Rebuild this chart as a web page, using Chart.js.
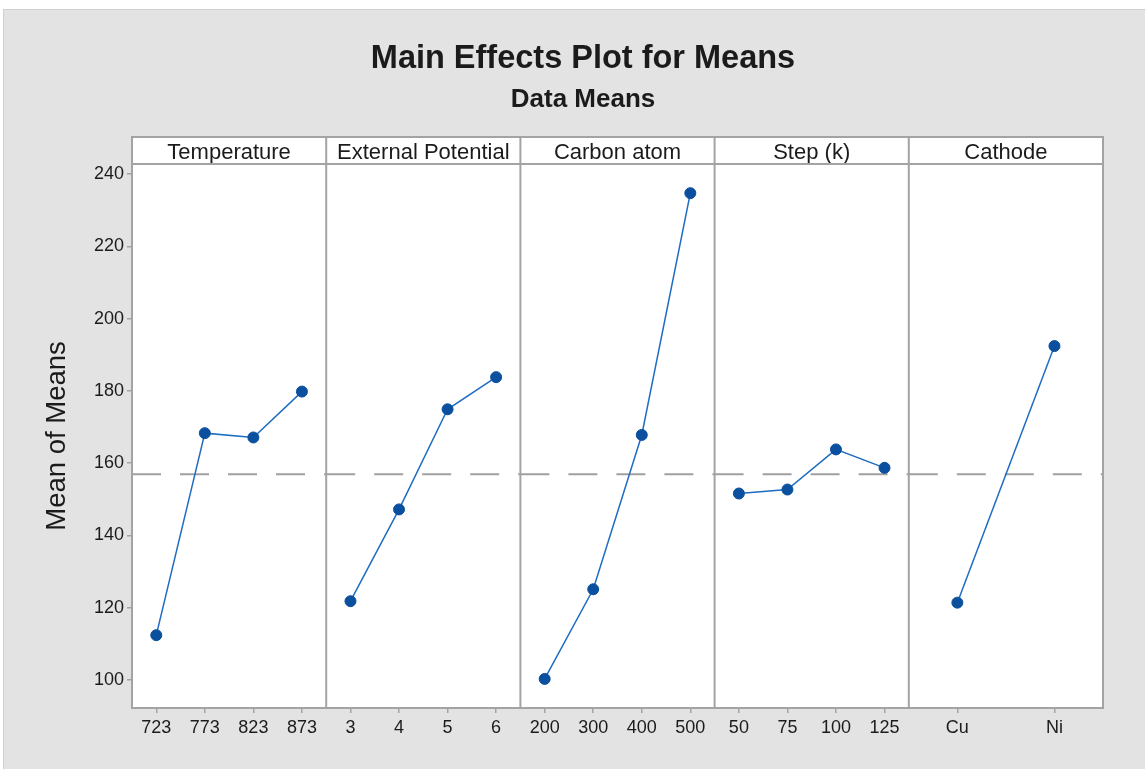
<!DOCTYPE html>
<html>
<head>
<meta charset="utf-8">
<title>Main Effects Plot for Means</title>
<script src="https://cdn.jsdelivr.net/npm/chart.js@4.4.1/dist/chart.umd.min.js"></script>
<style>
  html, body { margin: 0; padding: 0; background: #fff; }
  canvas { display: block; }
</style>
</head>
<body>
<canvas id="effects" width="1145" height="769"></canvas>
<script>
// factor names and their levels
const factorNames = ['Temperature', 'External Potential', 'Carbon atom', 'Step (k)', 'Cathode'];
const tempLevels = ['723', '773', '823', '873'];
const potentialLevels = ['3', '4', '5', '6'];
const carbonLevels = ['200', '300', '400', '500'];
const stepLevels = ['50', '75', '100', '125'];
const cathodeLevels = ['Cu', 'Ni'];

// mean of means at each level
const tempMeans = [112.4, 168.3, 167.1, 179.8];
const potentialMeans = [121.8, 147.2, 174.9, 183.8];
const carbonMeans = [100.3, 125.1, 167.8, 234.7];
const stepMeans = [151.6, 152.7, 163.8, 158.7];
const cathodeMeans = [121.4, 192.4];

const grandMean = 156.9;
const yTickValues = [100, 120, 140, 160, 180, 200, 220, 240];

const levels = [tempLevels, potentialLevels, carbonLevels, stepLevels, cathodeLevels];
const means = [tempMeans, potentialMeans, carbonMeans, stepMeans, cathodeMeans];

const FONT = "'Liberation Sans', Arial, sans-serif";
const TEXT = '#1b1b1b';
const FRAME = '#a3a3a3';
const BG = '#e3e3e3';

const scales = {
    y: {
        position: 'left',
        min: 92.25,
        max: 242.77,
        afterFit: s => { s.width = 107; },
        afterBuildTicks: s => { s.ticks = yTickValues.map(v => ({ value: v })); },
        ticks: { font: { family: FONT, size: 18 }, color: TEXT, padding: 3 },
        grid: { display: true, drawOnChartArea: false, tickLength: 5, color: FRAME, lineWidth: 1.5 },
        border: { display: false },
        title: {
            display: true,
            text: 'Mean of Means',
            font: { family: FONT, size: 27.5 },
            color: TEXT,
            padding: { top: 15.5, bottom: 0 }
        }
    },
    // empty right box so the titles sit where they do in the original
    yr: {
        type: 'linear',
        position: 'right',
        afterFit: s => { s.width = 38; },
        ticks: { display: false },
        grid: { display: false, drawTicks: false },
        border: { display: false }
    }
};

levels.forEach((labs, i) => {
    scales['x' + i] = {
        type: 'category',
        labels: labs,
        position: 'bottom',
        stack: 'panels',
        stackWeight: 1,
        offset: true,
        afterFit: s => { s.height = 61; },
        ticks: { font: { family: FONT, size: 18 }, color: TEXT, padding: 4, autoSkip: false, maxRotation: 0 },
        grid: { display: true, drawOnChartArea: false, tickLength: 5, color: FRAME, lineWidth: 1.5 },
        border: { display: false }
    };
});

// top strip boxes are laid out right to left, so add them in reverse
for (let i = factorNames.length - 1; i >= 0; i--) {
    scales['h' + i] = {
        type: 'linear',
        position: 'top',
        stack: 'strip',
        stackWeight: 1,
        min: 0,
        max: 1,
        afterFit: s => { s.height = 27; },
        ticks: { display: false },
        grid: { display: false, drawTicks: false },
        border: { display: false },
        title: {
            display: true,
            text: factorNames[i],
            font: { family: FONT, size: 22 },
            color: TEXT,
            padding: { top: 2.5, bottom: 0 }
        }
    };
}

const datasets = means.map((m, i) => ({
    label: factorNames[i],
    data: m,
    xAxisID: 'x' + i,
    yAxisID: 'y',
    borderColor: '#1f6cc3',
    borderWidth: 1.5,
    pointRadius: 5.5,
    pointBackgroundColor: '#0a509f',
    pointBorderColor: '#0a509f',
    pointBorderWidth: 1,
    tension: 0
}));

const framePlugin = {
    id: 'frame',
    beforeDraw(chart) {
        const { ctx, chartArea: a } = chart;
        const stripTop = a.top - 27;
        ctx.save();
        ctx.fillStyle = '#fff';
        ctx.fillRect(0, 0, chart.width, chart.height);
        ctx.fillStyle = BG;
        ctx.fillRect(3, 9, chart.width - 3, chart.height - 9);
        ctx.strokeStyle = '#d0d0d0';
        ctx.lineWidth = 1;
        ctx.strokeRect(3.5, 9.5, chart.width, chart.height);
        ctx.fillStyle = '#fff';
        ctx.fillRect(a.left, stripTop, a.right - a.left, a.bottom - stripTop);
        ctx.restore();
    },
    beforeDatasetsDraw(chart) {
        const { ctx, chartArea: a, scales: sc } = chart;
        const stripTop = a.top - 27;
        const yMean = sc.y.getPixelForValue(grandMean);
        ctx.save();
        // grand mean reference line, dash pattern restarting in each panel
        ctx.strokeStyle = '#a0a0a0';
        ctx.lineWidth = 2;
        ctx.setLineDash([29, 19]);
        for (let i = 0; i < levels.length; i++) {
            const s = sc['x' + i];
            ctx.beginPath();
            ctx.moveTo(s.left, yMean);
            ctx.lineTo(s.right, yMean);
            ctx.stroke();
        }
        ctx.setLineDash([]);
        // outer frame, strip and panel dividers
        ctx.strokeStyle = FRAME;
        ctx.lineWidth = 2;
        ctx.strokeRect(a.left, stripTop, a.right - a.left, a.bottom - stripTop);
        ctx.beginPath();
        ctx.moveTo(a.left, a.top);
        ctx.lineTo(a.right, a.top);
        for (let i = 0; i < levels.length - 1; i++) {
            const x = sc['x' + i].right;
            ctx.moveTo(x, stripTop);
            ctx.lineTo(x, a.bottom);
        }
        ctx.stroke();
        ctx.restore();
    }
};

new Chart(document.getElementById('effects'), {
    type: 'line',
    data: { datasets },
    options: {
        responsive: false,
        animation: false,
        layout: { padding: { top: 9, left: 25, right: 4, bottom: 0 } },
        scales,
        plugins: {
            legend: { display: false },
            tooltip: { enabled: false },
            title: {
                display: true,
                text: 'Main Effects Plot for Means',
                font: { family: FONT, size: 32.5, weight: 'bold' },
                color: TEXT,
                padding: { top: 30.5, bottom: 0 }
            },
            subtitle: {
                display: true,
                text: 'Data Means',
                font: { family: FONT, size: 26, weight: 'bold' },
                color: TEXT,
                padding: { top: 5.9, bottom: 21.4 }
            }
        }
    },
    plugins: [framePlugin]
});
</script>
</body>
</html>
